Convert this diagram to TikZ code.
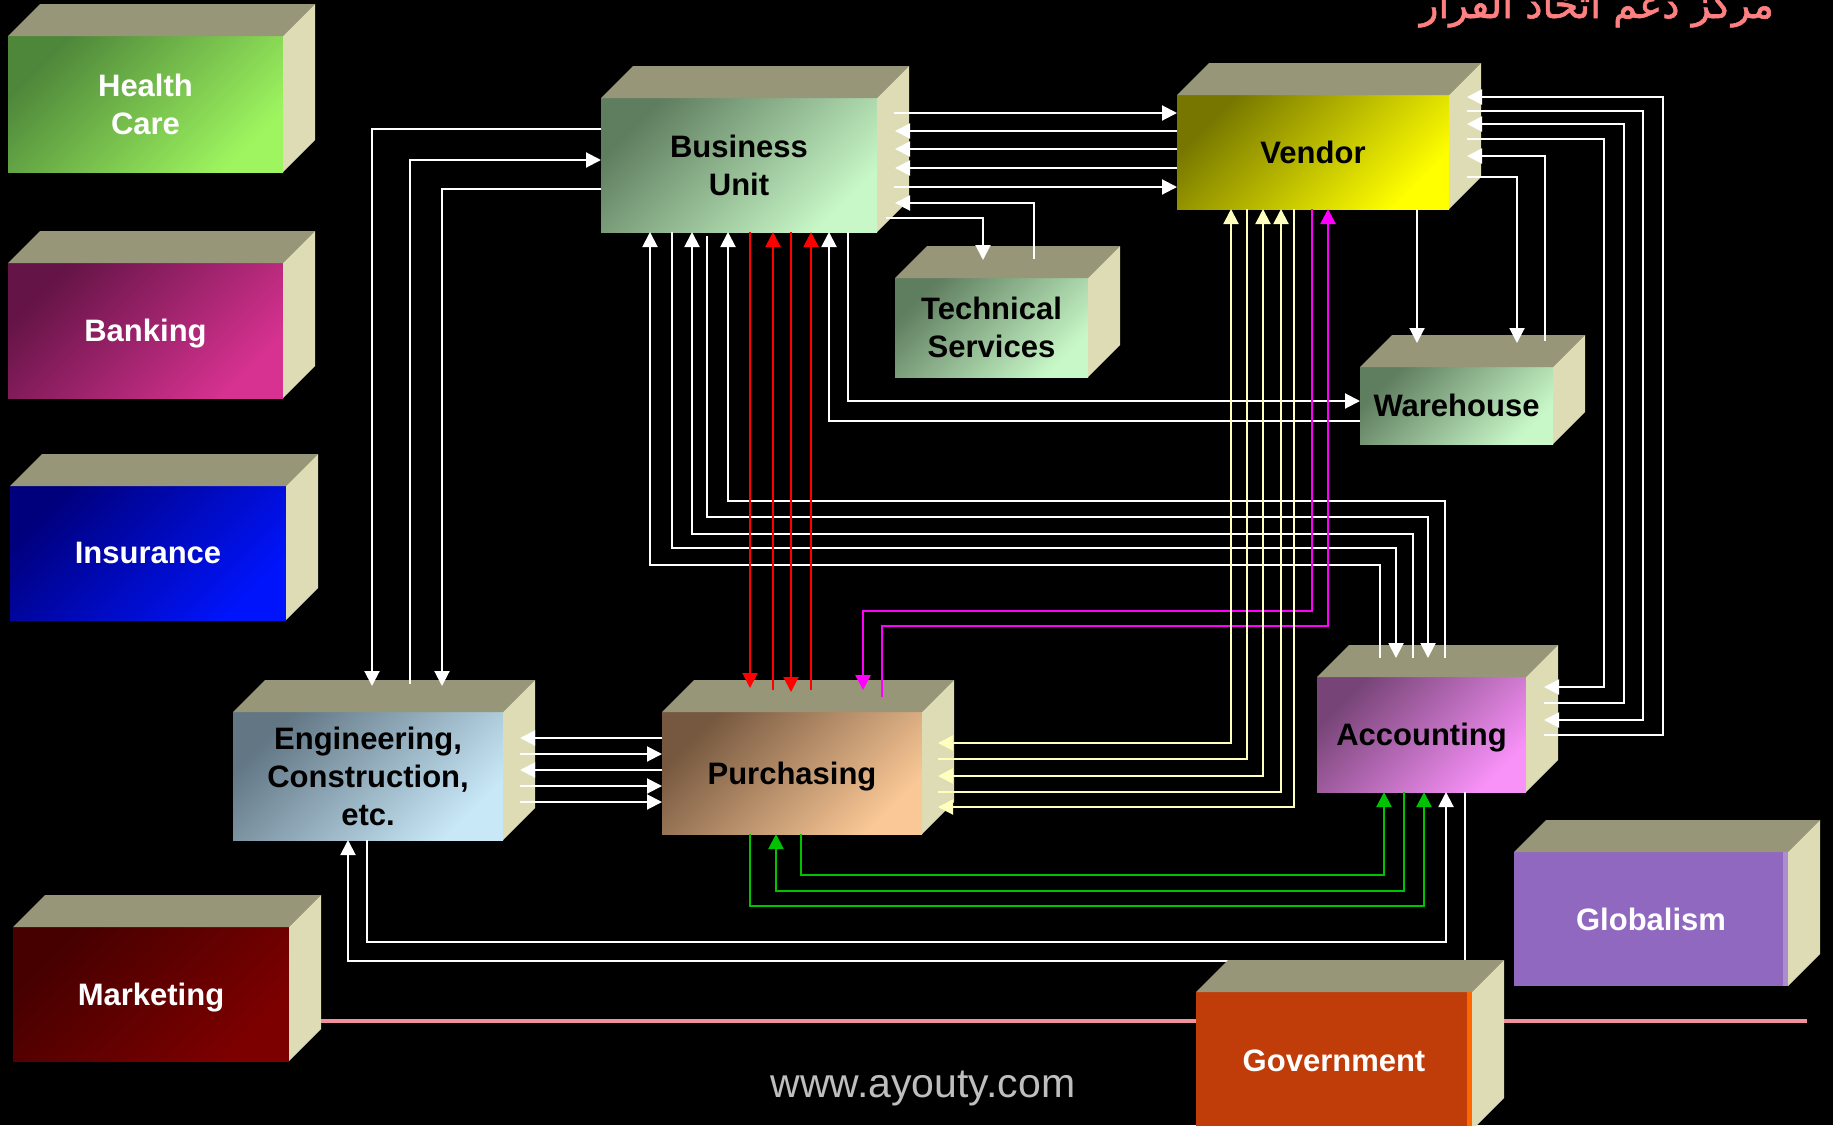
\documentclass[tikz,border=0pt]{standalone}
\usepackage{fontspec}
\usepackage{graphicx}
\setmainfont{Liberation Sans}
\newfontfamily\arabicfont[Script=Arabic,FakeBold=1.5]{DejaVu Sans}
\TeXXeTstate=1
\usetikzlibrary{arrows.meta,calc}

\definecolor{topc}{RGB}{152,150,120}
\definecolor{sidec}{RGB}{222,220,180}
\definecolor{ylc}{RGB}{255,255,190}
\definecolor{grc}{RGB}{0,195,0}
\definecolor{mgc}{RGB}{255,0,255}
\definecolor{pinkc}{RGB}{240,145,155}
\definecolor{arabc}{RGB}{255,128,128}
\definecolor{webc}{RGB}{190,190,190}
\definecolor{hcD}{RGB}{78,135,58}\definecolor{hcL}{RGB}{158,245,95}
\definecolor{bkD}{RGB}{100,20,70}\definecolor{bkL}{RGB}{215,50,145}
\definecolor{inD}{RGB}{0,0,125}\definecolor{inL}{RGB}{0,20,252}
\definecolor{mkD}{RGB}{70,0,0}\definecolor{mkL}{RGB}{125,0,0}
\definecolor{enD}{RGB}{98,118,132}\definecolor{enL}{RGB}{200,232,248}
\definecolor{puD}{RGB}{118,88,64}\definecolor{puL}{RGB}{250,200,150}
\definecolor{gnD}{RGB}{95,125,95}\definecolor{gnL}{RGB}{200,248,200}
\definecolor{veD}{RGB}{118,118,0}\definecolor{veL}{RGB}{255,255,0}
\definecolor{acD}{RGB}{118,68,118}\definecolor{acL}{RGB}{248,145,248}
\definecolor{glC}{RGB}{144,104,192}
\definecolor{goC}{RGB}{192,60,8}

\tikzset{
  >={Triangle[length=15pt,width=15pt]},
  face/.style={inner sep=0pt, outer sep=0pt, align=center,
    font=\fontsize{31}{38}\selectfont\bfseries},
  oneline/.style={text depth=0pt},
  grad/.style 2 args={shading=axis, top color=#1, bottom color=#2, shading angle=45},
  wl/.style={draw=white, line width=2pt},
  rl/.style={draw=red, line width=2pt},
  ml/.style={draw=mgc, line width=2.6pt},
  yl/.style={draw=ylc, line width=2pt},
  gl/.style={draw=grc, line width=2.2pt},
}

% #1 name, #2 x1, #3 y1, #4 x2, #5 y2, #6 fill style, #7 text colour, #8 text
\newcommand{\cubebox}[8]{%
  \node[face, #6, text=#7, minimum width={(#4-#2)*1pt}, minimum height={(#5-#3)*1pt}]
    (#1) at ({(#2+#4)/2},{(#3+#5)/2}) {#8};
  \fill[topc] (#1.north west) -- ++(32,-32) -- ($(#1.north east)+(32,-32)$) -- (#1.north east) -- cycle;
  \fill[sidec] (#1.north east) -- ++(32,-32) -- ($(#1.south east)+(32,-32)$) -- (#1.south east) -- cycle;
}

\begin{document}
\begin{tikzpicture}[x=1pt,y=-1pt]
\useasboundingbox (0,0) rectangle (1833,1125);
\fill[black] (0,0) rectangle (1833,1125);

% title
\node[anchor=base east, text=arabc, inner sep=0pt] (title) at (1774,18)
  {\resizebox{354pt}{!}{\arabicfont\beginR مركز دعم اتخاذ القرار\endR}};

% boxes
\cubebox{hc}{8}{36}{283}{172}{grad={hcD}{hcL}}{white}{Health\\Care}
\cubebox{bank}{8}{263}{283}{398}{grad={bkD}{bkL},oneline}{white}{Banking}
\cubebox{ins}{10}{486}{286}{620}{grad={inD}{inL},oneline}{white}{Insurance}
\cubebox{mkt}{13}{927}{289}{1061}{grad={mkD}{mkL},oneline}{white}{Marketing}
\cubebox{eng}{233}{712}{503}{840}{grad={enD}{enL}}{black}{Engineering,\\Construction,\\etc.}
\cubebox{purch}{662}{712}{922}{834}{grad={puD}{puL},oneline}{black}{Purchasing}
\cubebox{bu}{601}{98}{877}{232}{grad={gnD}{gnL}}{black}{Business\\Unit}
\cubebox{ts}{895}{278}{1088}{377}{grad={gnD}{gnL}}{black}{Technical\\Services}
\cubebox{vendor}{1177}{95}{1449}{209}{grad={veD}{veL},oneline}{black}{Vendor}
\cubebox{wh}{1360}{367}{1553}{444}{grad={gnD}{gnL},oneline}{black}{Warehouse}
\cubebox{acc}{1317}{677}{1526}{792}{grad={acD}{acL},oneline}{black}{Accounting}
\cubebox{glob}{1514}{852}{1788}{986}{fill=glC,oneline}{white}{Globalism}
\fill[glC!75!white] ($(glob.north east)+(-5,0)$) rectangle (glob.south east);

% Business Unit <-> Engineering
\draw[wl,->] (bu.west |- 0,129) -| (372,686);
\draw[wl,->] (410,684) |- (bu.west |- 0,160);
\draw[wl,->] (bu.west |- 0,189) -| (442,686);

% Business Unit <-> Vendor
\draw[wl,->] (894,113) -- (vendor.west |- 0,113);
\draw[wl,->] (vendor.west |- 0,131) -- (895,131);
\draw[wl,->] (vendor.west |- 0,149) -- (895,149);
\draw[wl,->] (vendor.west |- 0,168) -- (895,168);
\draw[wl,->] (894,187) -- (vendor.west |- 0,187);

% Business Unit <-> Technical Services
\draw[wl,->] (886,218) -| (983,260);
\draw[wl,->] (1034,259) |- (895,203);

% Business Unit <-> Accounting
\draw[wl,->] (1380,658) |- (650,565) -- (bu.south -| 650,0);
\draw[wl,->] (bu.south -| 672,0) |- (1396,548) -- (1396,658);
\draw[wl,->] (1413,658) |- (692,534) -- (bu.south -| 692,0);
\draw[wl,->] (707,236) |- (1428,517) -- (1428,658);
\draw[wl,->] (1445,658) |- (728,501) -- (bu.south -| 728,0);

% Business Unit <-> Warehouse
\draw[wl,->] (wh.west |- 0,421) -| (bu.south -| 829,0);
\draw[wl,->] (bu.south -| 848,0) |- (wh.west |- 0,401);

% Business Unit <-> Purchasing (red)
\draw[rl,->] (bu.south -| 750,0) -- (750,688);
\draw[rl,->] (773,690) -- (bu.south -| 773,0);
\draw[rl,->] (bu.south -| 791,0) -- (791,692);
\draw[rl,->] (811,690) -- (bu.south -| 811,0);

% Vendor <-> Purchasing (magenta)
\draw[ml,->] (vendor.south -| 1312,0) |- (863,611) -- (863,690);
\draw[ml,->] (882,697) |- (1328,626) -- (vendor.south -| 1328,0);

% Vendor <-> Purchasing (yellow)
\draw[yl,<->] (938,743) -| (vendor.south -| 1231,0);
\draw[yl] (938,759) -| (vendor.south -| 1247,0);
\draw[yl,<->] (938,776) -| (vendor.south -| 1263,0);
\draw[yl,->] (938,792) -| (vendor.south -| 1281,0);
\draw[yl,<-] (938,807) -| (vendor.south -| 1294,0);

% Vendor <-> Accounting
\draw[wl,->] (1544,735) -| (1663,97) -- (1467,97);
\draw[wl,->] (1467,111) -| (1643,720) -- (1544,720);
\draw[wl,->] (1544,703) -| (1624,124) -- (1467,124);
\draw[wl,->] (1467,139) -| (1604,687) -- (1544,687);

% Vendor <-> Warehouse
\draw[wl,->] (vendor.south -| 1417,0) -- (1417,343);
\draw[wl,->] (1467,177) -| (1517,343);
\draw[wl,->] (1545,341) |- (1467,156);

% Engineering <-> Purchasing
\draw[wl,->] (purch.west |- 0,738) -- (520,738);
\draw[wl,->] (520,754) -- (purch.west |- 0,754);
\draw[wl,->] (purch.west |- 0,770) -- (520,770);
\draw[wl,->] (520,786) -- (purch.west |- 0,786);
\draw[wl,->] (520,802) -- (purch.west |- 0,802);

% Purchasing <-> Accounting (green)
\draw[gl,->] (purch.south -| 801,0) |- (1384,875) -- (acc.south -| 1384,0);
\draw[gl,->] (acc.south -| 1404,0) |- (776,891) -- (purch.south -| 776,0);
\draw[gl,->] (purch.south -| 750,0) |- (1424,906) -- (acc.south -| 1424,0);

% Engineering <-> Accounting
\draw[wl,->] (eng.south -| 367,0) |- (1446,942) -- (acc.south -| 1446,0);
\draw[wl,->] (acc.south -| 1465,0) |- (348,961) -- (eng.south -| 348,0);

% pink rule
\draw[pinkc, line width=4pt] (mkt.south east |- 0,1021) ++(32,0) -- (1807,1021);

% Government (in front)
\cubebox{gov}{1196}{992}{1472}{1130}{fill=goC,oneline}{white}{Government}
\fill[orange!80!red] ($(gov.north east)+(-5,0)$) rectangle (gov.south east);

% web address
\node[anchor=base, text=webc, font=\fontsize{41}{41}\selectfont, inner sep=0pt] (web) at (923,1097) {www.ayouty.com};
\end{tikzpicture}
\end{document}
